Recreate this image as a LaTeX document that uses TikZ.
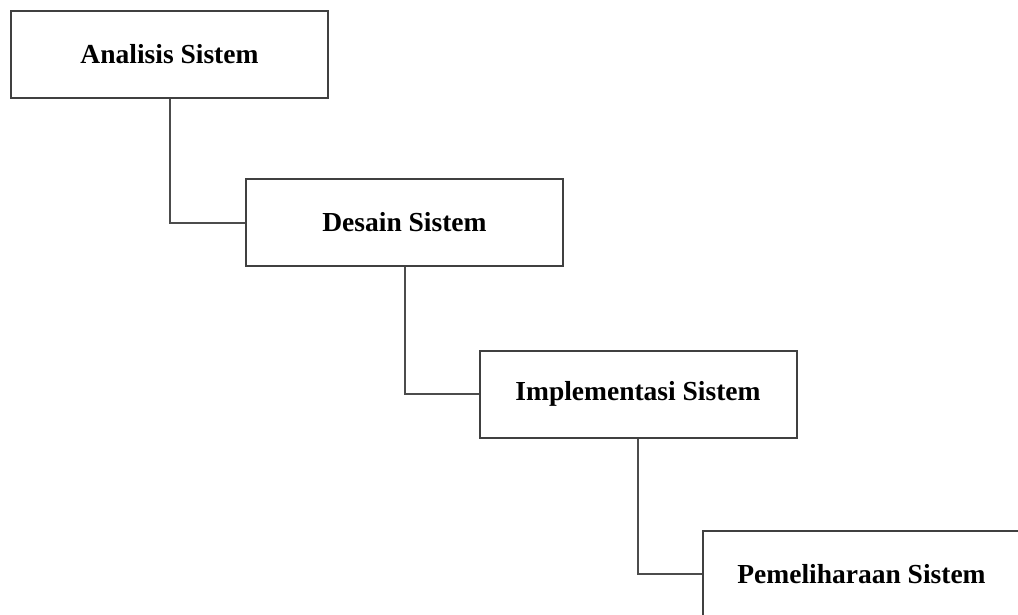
\documentclass[tikz,border=0pt]{standalone}
\usepackage{fontspec}
\setmainfont{Liberation Serif}
\begin{document}
\begin{tikzpicture}[x=1pt,y=-1pt,
  stagebox/.style={draw=black!75, line width=2pt, fill=white, minimum width=317pt, minimum height=87pt, inner sep=0pt, font=\fontsize{27.5}{31}\selectfont\bfseries},
  link/.style={draw=black!70, line width=2pt}]
\useasboundingbox (0,0) rectangle (1018,615);
\clip (0,0) rectangle (1018,615);
\node[stagebox] (a) at (169.5,54.5) {Analisis Sistem};
\node[stagebox] (b) at (404.5,222.5) {Desain Sistem};
\node[stagebox] (c) at (638,394) {Implementasi Sistem};
\node[stagebox] (d) at (861.5,574) {Pemeliharaan Sistem};
\draw[link] (a.south) |- (b.west);
\draw[link] (b.south) |- (c.west);
\draw[link] (c.south) |- (d.west);
\end{tikzpicture}
\end{document}
